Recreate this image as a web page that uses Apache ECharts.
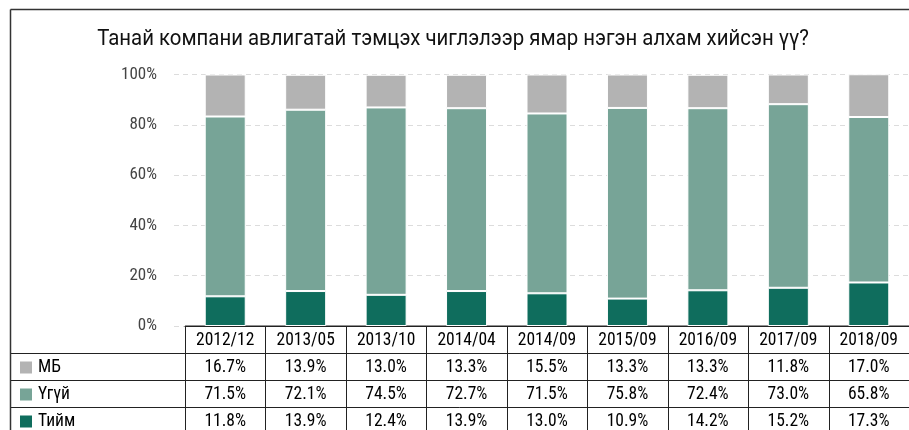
<!DOCTYPE html>
<html lang="mn">
<head>
    <meta charset="UTF-8">
    <title>Авлигатай тэмцэх алхам</title>
    <script src="https://cdn.jsdelivr.net/npm/echarts@6/dist/echarts.min.js"></script>
    <style>
        html, body { margin: 0; padding: 0; background: #fff; }
    </style>
</head>
<body>
    <div id="main" style="width: 909px;height:430px;"></div>
    <script>
        var chartDom = document.getElementById('main');
        var myChart = echarts.init(chartDom);

        // өгөгдөл
        const titleText = 'Танай компани авлигатай тэмцэх чиглэлээр ямар нэгэн алхам хийсэн үү?';
        const categories = ['2012/12', '2013/05', '2013/10', '2014/04', '2014/09', '2015/09', '2016/09', '2017/09', '2018/09'];
        const seriesNames = ['МБ', 'Үгүй', 'Тийм'];
        const mbData = [16.7, 13.9, 13.0, 13.3, 15.5, 13.3, 13.3, 11.8, 17.0];
        const ugviData = [71.5, 72.1, 74.5, 72.7, 71.5, 75.8, 72.4, 73.0, 65.8];
        const tiimData = [11.8, 13.9, 12.4, 13.9, 13.0, 10.9, 14.2, 15.2, 17.3];

        const colors = { 'МБ': '#b3b3b3', 'Үгүй': '#77a497', 'Тийм': '#0f6d5d' };
        const rowsData = { 'МБ': mbData, 'Үгүй': ugviData, 'Тийм': tiimData };
        const narrow = '"Liberation Sans Narrow", "Roboto Condensed", "DejaVu Sans Condensed", Roboto, sans-serif';

        const PLOT_TOP = 74.5, AXIS_Y = 326, ROW_H = 27;

        var option = {
            animation: false,
            grid: [
                { left: 174, right: -5, top: PLOT_TOP, bottom: 430 - AXIS_Y },
                { left: 185, right: -5, top: PLOT_TOP, bottom: 430 - AXIS_Y }
            ],
            xAxis: [
                { type: 'category', gridIndex: 0, data: categories, show: false },
                {
                    type: 'category', gridIndex: 1, data: categories,
                    axisLine: { lineStyle: { color: '#222', width: 1 } },
                    axisTick: { show: false },
                    axisLabel: { show: false }
                }
            ],
            yAxis: [
                {
                    type: 'value', gridIndex: 0, min: 0, max: 100, interval: 20,
                    axisLine: { show: false },
                    axisTick: { show: false },
                    axisLabel: {
                        formatter: '{value}%', margin: 17,
                        fontFamily: narrow, fontSize: 17, color: '#444'
                    },
                    splitLine: { lineStyle: { type: [5, 4], color: '#dcdcdc', width: 1 } }
                },
                { type: 'value', gridIndex: 1, min: 0, max: 100, show: false }
            ],
            series: ['Тийм', 'Үгүй', 'МБ'].map(function (name) {
                return {
                    name: name,
                    type: 'bar',
                    stack: 'total',
                    xAxisIndex: 1,
                    yAxisIndex: 1,
                    barWidth: 41,
                    itemStyle: { color: colors[name], borderColor: '#fff', borderWidth: 1 },
                    data: rowsData[name]
                };
            })
        };

        myChart.setOption(option);

        // гарчиг, хүснэгт, хүрээ
        function buildTable() {
            const els = [];
            const centers = categories.map(function (c, i) {
                return myChart.convertToPixel({ xAxisIndex: 1 }, i);
            });
            const colW = centers[1] - centers[0];
            const tableLeft = centers[0] - colW / 2;
            const tableRight = centers[centers.length - 1] + colW / 2;
            const lineStyle = { stroke: '#222', lineWidth: 1 };
            const bottom = AXIS_Y + ROW_H * 4;

            els.push({
                type: 'text', x: 453, y: 39, scaleX: 0.927, originX: 0, originY: 0,
                style: { text: titleText, fontFamily: 'Roboto', fontSize: 22, fill: '#111', align: 'center', verticalAlign: 'middle' },
                silent: true
            });

            els.push({ type: 'line', shape: { x1: tableLeft, y1: AXIS_Y, x2: tableRight, y2: AXIS_Y }, style: lineStyle, silent: true });
            for (let r = 1; r <= 3; r++) {
                const y = AXIS_Y + ROW_H * r + 0.5;
                els.push({ type: 'line', shape: { x1: 10.5, y1: y, x2: tableRight, y2: y }, style: lineStyle, silent: true });
            }
            for (let i = 0; i <= categories.length; i++) {
                const x = Math.round(tableLeft + colW * i) + 0.5;
                els.push({ type: 'line', shape: { x1: x, y1: AXIS_Y, x2: x, y2: bottom }, style: lineStyle, silent: true });
            }
            categories.forEach(function (c, i) {
                els.push({
                    type: 'text', x: centers[i], y: AXIS_Y + ROW_H / 2 + 1,
                    style: { text: c, fontFamily: narrow, fontSize: 17.5, fill: '#000', align: 'center', verticalAlign: 'middle' },
                    silent: true
                });
            });
            seriesNames.forEach(function (name, r) {
                const yMid = AXIS_Y + ROW_H * (r + 1) + ROW_H / 2 + 1;
                els.push({
                    type: 'rect', shape: { x: 20, y: yMid - 6, width: 12, height: 12 },
                    style: { fill: colors[name] }, silent: true
                });
                els.push({
                    type: 'text', x: 38, y: yMid,
                    style: { text: name, fontFamily: narrow, fontSize: 17.5, fill: '#000', align: 'left', verticalAlign: 'middle' },
                    silent: true
                });
                rowsData[name].forEach(function (v, i) {
                    els.push({
                        type: 'text', x: centers[i], y: yMid,
                        style: { text: v.toFixed(1) + '%', fontFamily: narrow, fontSize: 17.5, fill: '#000', align: 'center', verticalAlign: 'middle' },
                        silent: true
                    });
                });
            });
            els.push({ type: 'line', shape: { x1: 10.5, y1: 9.5, x2: 920, y2: 9.5 }, style: { stroke: '#333', lineWidth: 1.5 }, silent: true });
            els.push({ type: 'line', shape: { x1: 10.5, y1: 9.5, x2: 10.5, y2: 440 }, style: { stroke: '#333', lineWidth: 1.5 }, silent: true });
            return els;
        }

        myChart.setOption({ graphic: buildTable() });
    </script>
</body>
</html>
